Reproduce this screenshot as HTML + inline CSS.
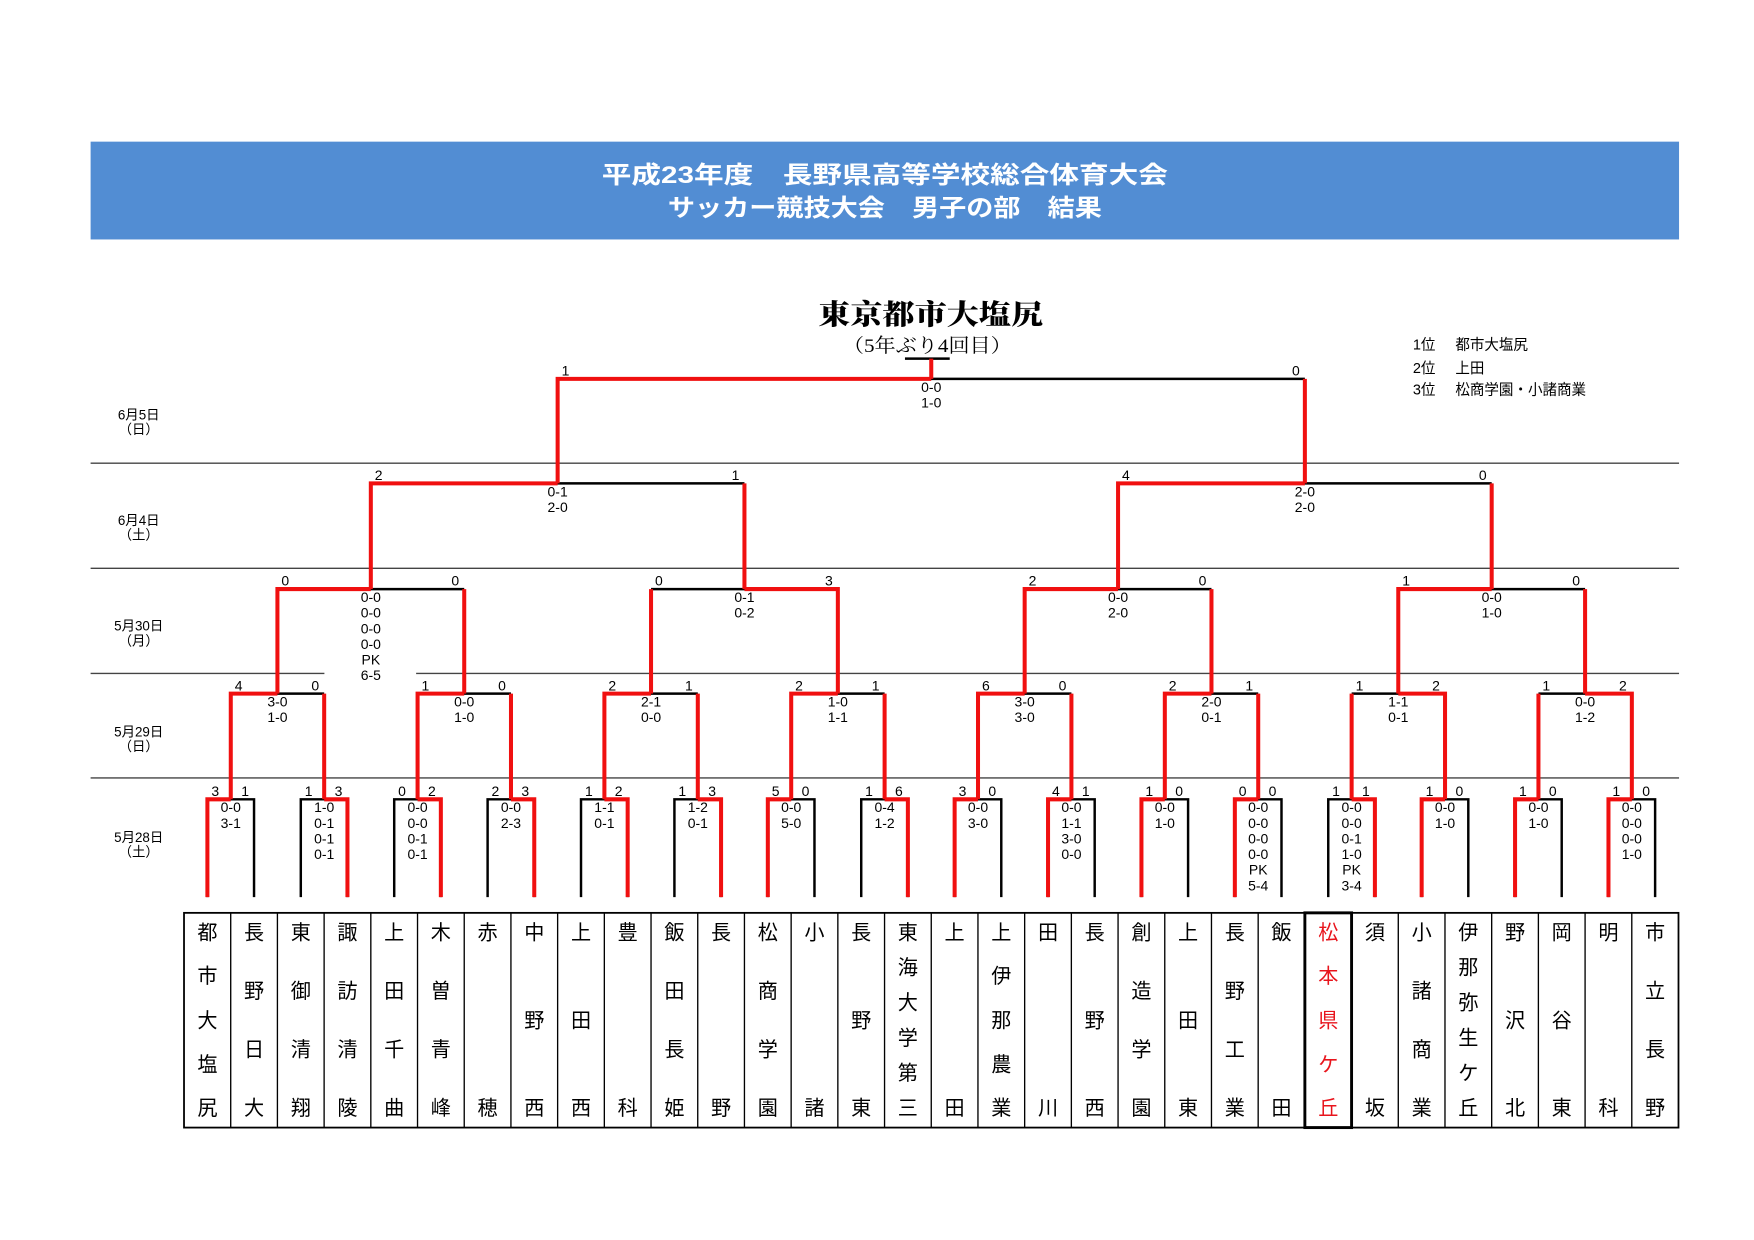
<!DOCTYPE html>
<html><head><meta charset="utf-8"><style>html,body{margin:0;padding:0;background:#fff}svg{display:block}</style></head>
<body>
<svg width="1754" height="1240" viewBox="0 0 1568 1103" preserveAspectRatio="none" xmlns="http://www.w3.org/2000/svg">
<rect x="81" y="126" width="1420" height="87" fill="#528dd3"/>
<g font-family="'Liberation Sans','Noto Sans CJK JP',sans-serif" font-weight="bold" fill="#fff" font-size="21" text-anchor="middle">
<text x="791" y="163" textLength="506" lengthAdjust="spacingAndGlyphs">平成23年度　長野県高等学校総合体育大会</text>
<text x="791" y="192" textLength="388" lengthAdjust="spacingAndGlyphs">サッカー競技大会　男子の部　結果</text>
</g>
<g font-family="'Liberation Serif','Noto Serif CJK SC',serif" text-anchor="middle" fill="#000">
<text x="832" y="288" font-size="25" font-weight="900" textLength="201" lengthAdjust="spacingAndGlyphs">東京都市大塩尻</text>
<text x="829" y="313" font-size="17" textLength="151" lengthAdjust="spacingAndGlyphs">（5年ぶり4回目）</text>
</g>
<g font-family="'Liberation Sans','Noto Sans CJK JP',sans-serif" font-size="13" fill="#000">
<text x="1263" y="311">1位</text><text x="1301" y="311">都市大塩尻</text>
<text x="1263" y="332">2位</text><text x="1301" y="332">上田</text>
<text x="1263" y="351">3位</text><text x="1301" y="351">松商学園・小諸商業</text>
</g>
<g font-family="'Liberation Sans','Noto Sans CJK JP',sans-serif" font-size="12" fill="#000" text-anchor="middle">
<text x="124" y="373">6月5日</text><text x="124" y="386">（日）</text>
<text x="124" y="467">6月4日</text><text x="124" y="480">（土）</text>
<text x="124" y="561">5月30日</text><text x="124" y="574">（月）</text>
<text x="124" y="655">5月29日</text><text x="124" y="668">（日）</text>
<text x="124" y="749">5月28日</text><text x="124" y="762">（土）</text>
</g>
<g stroke="#444" stroke-width="1.2" fill="none">
<path d="M81 412H1501M81 505.5H1501M81 599H290M372 599H1501M81 692H1501"/>
</g>
<g stroke="#000" stroke-width="2.2" fill="none">
<path d="M185.4 798V711H227.1V798M268.9 798V711H310.6V798M352.4 798V711H394.1V798M435.9 798V711H477.6V798M519.4 798V711H561.1V798M602.9 798V711H644.6V798M686.4 798V711H728.1V798M769.9 798V711H811.6V798M853.4 798V711H895.1V798M936.9 798V711H978.6V798M1020.4 798V711H1062.1V798M1103.9 798V711H1145.6V798M1187.4 798V711H1229.1V798M1270.9 798V711H1312.6V798M1354.4 798V711H1396.1V798M1437.9 798V711H1479.6V798"/>
<path d="M206.3 617H289.8M373.3 617H456.8M540.3 617H623.8M707.3 617H790.8M874.3 617H957.8M1041.3 617H1124.8M1208.3 617H1291.8M1375.3 617H1458.8"/>
<path d="M248 524H415M582 524H749M916 524H1083M1250 524H1417"/>
<path d="M331.5 430H665.5M999.5 430H1333.5M498.5 337H1166.5"/>
<path d="M809 319H849"/>
</g>
<g stroke="#f01010" stroke-width="3.6" fill="none" stroke-linejoin="miter">
<path d="M185.4 798V711H206.3M310.6 798V711H289.8M394.1 798V711H373.3M477.6 798V711H456.8M561.1 798V711H540.3M644.6 798V711H623.8M686.4 798V711H707.3M811.6 798V711H790.8M853.4 798V711H874.3M936.9 798V711H957.8M1020.4 798V711H1041.3M1103.9 798V711H1124.8M1229.1 798V711H1208.3M1270.9 798V711H1291.8M1354.4 798V711H1375.3M1437.9 798V711H1458.8"/>
<path d="M206.3 711V617H248M289.8 711V617M373.3 711V617H415M456.8 711V617M540.3 711V617H582M623.8 711V617M707.3 711V617H749M790.8 711V617M874.3 711V617H916M957.8 711V617M1041.3 711V617H1083M1124.8 711V617M1291.8 711V617H1250M1208.3 711V617M1458.8 711V617H1417M1375.3 711V617"/>
<path d="M248 617V524H331.5M415 617V524M749 617V524H665.5M582 617V524M916 617V524H999.5M1083 617V524M1250 617V524H1333.5M1417 617V524"/>
<path d="M331.5 524V430H498.5M665.5 524V430M999.5 524V430H1166.5M1333.5 524V430"/>
<path d="M498.5 430V337H832.5M1166.5 430V337M832.5 337V319"/>
</g>
<g font-family="'Liberation Sans',sans-serif" font-size="12.5" fill="#000" text-anchor="middle">
<text x="192.4" y="708">3</text><text x="219.1" y="708">1</text>
<text x="275.9" y="708">1</text><text x="302.6" y="708">3</text>
<text x="359.4" y="708">0</text><text x="386.1" y="708">2</text>
<text x="442.9" y="708">2</text><text x="469.6" y="708">3</text>
<text x="526.4" y="708">1</text><text x="553.1" y="708">2</text>
<text x="609.9" y="708">1</text><text x="636.6" y="708">3</text>
<text x="693.4" y="708">5</text><text x="720.1" y="708">0</text>
<text x="776.9" y="708">1</text><text x="803.6" y="708">6</text>
<text x="860.4" y="708">3</text><text x="887.1" y="708">0</text>
<text x="943.9" y="708">4</text><text x="970.6" y="708">1</text>
<text x="1027.4" y="708">1</text><text x="1054.1" y="708">0</text>
<text x="1110.9" y="708">0</text><text x="1137.6" y="708">0</text>
<text x="1194.4" y="708">1</text><text x="1221.1" y="708">1</text>
<text x="1277.9" y="708">1</text><text x="1304.6" y="708">0</text>
<text x="1361.4" y="708">1</text><text x="1388.1" y="708">0</text>
<text x="1444.9" y="708">1</text><text x="1471.6" y="708">0</text>
<text x="213.3" y="614">4</text><text x="281.8" y="614">0</text>
<text x="380.3" y="614">1</text><text x="448.8" y="614">0</text>
<text x="547.3" y="614">2</text><text x="615.8" y="614">1</text>
<text x="714.3" y="614">2</text><text x="782.8" y="614">1</text>
<text x="881.3" y="614">6</text><text x="949.8" y="614">0</text>
<text x="1048.3" y="614">2</text><text x="1116.8" y="614">1</text>
<text x="1215.3" y="614">1</text><text x="1283.8" y="614">2</text>
<text x="1382.3" y="614">1</text><text x="1450.8" y="614">2</text>
<text x="255" y="521">0</text><text x="407" y="521">0</text>
<text x="589" y="521">0</text><text x="741" y="521">3</text>
<text x="923" y="521">2</text><text x="1075" y="521">0</text>
<text x="1257" y="521">1</text><text x="1409" y="521">0</text>
<text x="338.5" y="427">2</text><text x="657.5" y="427">1</text>
<text x="1006.5" y="427">4</text><text x="1325.5" y="427">0</text>
<text x="505.5" y="334">1</text><text x="1158.5" y="334">0</text>
<text x="206.3" y="722.5">0-0</text><text x="206.3" y="736.4">3-1</text>
<text x="289.8" y="722.5">1-0</text><text x="289.8" y="736.4">0-1</text><text x="289.8" y="750.3">0-1</text><text x="289.8" y="764.2">0-1</text>
<text x="373.3" y="722.5">0-0</text><text x="373.3" y="736.4">0-0</text><text x="373.3" y="750.3">0-1</text><text x="373.3" y="764.2">0-1</text>
<text x="456.8" y="722.5">0-0</text><text x="456.8" y="736.4">2-3</text>
<text x="540.3" y="722.5">1-1</text><text x="540.3" y="736.4">0-1</text>
<text x="623.8" y="722.5">1-2</text><text x="623.8" y="736.4">0-1</text>
<text x="707.3" y="722.5">0-0</text><text x="707.3" y="736.4">5-0</text>
<text x="790.8" y="722.5">0-4</text><text x="790.8" y="736.4">1-2</text>
<text x="874.3" y="722.5">0-0</text><text x="874.3" y="736.4">3-0</text>
<text x="957.8" y="722.5">0-0</text><text x="957.8" y="736.4">1-1</text><text x="957.8" y="750.3">3-0</text><text x="957.8" y="764.2">0-0</text>
<text x="1041.3" y="722.5">0-0</text><text x="1041.3" y="736.4">1-0</text>
<text x="1124.8" y="722.5">0-0</text><text x="1124.8" y="736.4">0-0</text><text x="1124.8" y="750.3">0-0</text><text x="1124.8" y="764.2">0-0</text><text x="1124.8" y="778.1">PK</text><text x="1124.8" y="792">5-4</text>
<text x="1208.3" y="722.5">0-0</text><text x="1208.3" y="736.4">0-0</text><text x="1208.3" y="750.3">0-1</text><text x="1208.3" y="764.2">1-0</text><text x="1208.3" y="778.1">PK</text><text x="1208.3" y="792">3-4</text>
<text x="1291.8" y="722.5">0-0</text><text x="1291.8" y="736.4">1-0</text>
<text x="1375.3" y="722.5">0-0</text><text x="1375.3" y="736.4">1-0</text>
<text x="1458.8" y="722.5">0-0</text><text x="1458.8" y="736.4">0-0</text><text x="1458.8" y="750.3">0-0</text><text x="1458.8" y="764.2">1-0</text>
<text x="248" y="628.5">3-0</text><text x="248" y="642.4">1-0</text>
<text x="415" y="628.5">0-0</text><text x="415" y="642.4">1-0</text>
<text x="582" y="628.5">2-1</text><text x="582" y="642.4">0-0</text>
<text x="749" y="628.5">1-0</text><text x="749" y="642.4">1-1</text>
<text x="916" y="628.5">3-0</text><text x="916" y="642.4">3-0</text>
<text x="1083" y="628.5">2-0</text><text x="1083" y="642.4">0-1</text>
<text x="1250" y="628.5">1-1</text><text x="1250" y="642.4">0-1</text>
<text x="1417" y="628.5">0-0</text><text x="1417" y="642.4">1-2</text>
<text x="331.5" y="535.5">0-0</text><text x="331.5" y="549.4">0-0</text><text x="331.5" y="563.3">0-0</text><text x="331.5" y="577.2">0-0</text><text x="331.5" y="591.1">PK</text><text x="331.5" y="605">6-5</text>
<text x="665.5" y="535.5">0-1</text><text x="665.5" y="549.4">0-2</text>
<text x="999.5" y="535.5">0-0</text><text x="999.5" y="549.4">2-0</text>
<text x="1333.5" y="535.5">0-0</text><text x="1333.5" y="549.4">1-0</text>
<text x="498.5" y="441.5">0-1</text><text x="498.5" y="455.4">2-0</text>
<text x="1166.5" y="441.5">2-0</text><text x="1166.5" y="455.4">2-0</text>
<text x="832.5" y="348.5">0-0</text><text x="832.5" y="362.4">1-0</text>
</g>
<g fill="none" stroke="#000">
<rect x="164.5" y="812" width="1336" height="191" stroke-width="1.6"/>
<path stroke-width="1.2" d="M206.25 812V1003M248 812V1003M289.75 812V1003M331.5 812V1003M373.25 812V1003M415 812V1003M456.75 812V1003M498.5 812V1003M540.25 812V1003M582 812V1003M623.75 812V1003M665.5 812V1003M707.25 812V1003M749 812V1003M790.75 812V1003M832.5 812V1003M874.25 812V1003M916 812V1003M957.75 812V1003M999.5 812V1003M1041.25 812V1003M1083 812V1003M1124.75 812V1003M1166.5 812V1003M1208.25 812V1003M1250 812V1003M1291.75 812V1003M1333.5 812V1003M1375.25 812V1003M1417 812V1003M1458.75 812V1003"/>
<rect x="1166.5" y="812" width="41.75" height="191" stroke-width="2.6"/>
</g>
<g font-family="'Liberation Sans','Noto Sans CJK JP',sans-serif" font-size="18" fill="#000" text-anchor="middle">
<text x="185.4" y="835.5">都</text><text x="185.4" y="874.6">市</text><text x="185.4" y="913.8">大</text><text x="185.4" y="952.9">塩</text><text x="185.4" y="992">尻</text>
<text x="227.1" y="835.5">長</text><text x="227.1" y="887.7">野</text><text x="227.1" y="939.8">日</text><text x="227.1" y="992">大</text>
<text x="268.9" y="835.5">東</text><text x="268.9" y="887.7">御</text><text x="268.9" y="939.8">清</text><text x="268.9" y="992">翔</text>
<text x="310.6" y="835.5">諏</text><text x="310.6" y="887.7">訪</text><text x="310.6" y="939.8">清</text><text x="310.6" y="992">陵</text>
<text x="352.4" y="835.5">上</text><text x="352.4" y="887.7">田</text><text x="352.4" y="939.8">千</text><text x="352.4" y="992">曲</text>
<text x="394.1" y="835.5">木</text><text x="394.1" y="887.7">曽</text><text x="394.1" y="939.8">青</text><text x="394.1" y="992">峰</text>
<text x="435.9" y="835.5">赤</text><text x="435.9" y="992">穂</text>
<text x="477.6" y="835.5">中</text><text x="477.6" y="913.8">野</text><text x="477.6" y="992">西</text>
<text x="519.4" y="835.5">上</text><text x="519.4" y="913.8">田</text><text x="519.4" y="992">西</text>
<text x="561.1" y="835.5">豊</text><text x="561.1" y="992">科</text>
<text x="602.9" y="835.5">飯</text><text x="602.9" y="887.7">田</text><text x="602.9" y="939.8">長</text><text x="602.9" y="992">姫</text>
<text x="644.6" y="835.5">長</text><text x="644.6" y="992">野</text>
<text x="686.4" y="835.5">松</text><text x="686.4" y="887.7">商</text><text x="686.4" y="939.8">学</text><text x="686.4" y="992">園</text>
<text x="728.1" y="835.5">小</text><text x="728.1" y="992">諸</text>
<text x="769.9" y="835.5">長</text><text x="769.9" y="913.8">野</text><text x="769.9" y="992">東</text>
<text x="811.6" y="835.5">東</text><text x="811.6" y="866.8">海</text><text x="811.6" y="898.1">大</text><text x="811.6" y="929.4">学</text><text x="811.6" y="960.7">第</text><text x="811.6" y="992">三</text>
<text x="853.4" y="835.5">上</text><text x="853.4" y="992">田</text>
<text x="895.1" y="835.5">上</text><text x="895.1" y="874.6">伊</text><text x="895.1" y="913.8">那</text><text x="895.1" y="952.9">農</text><text x="895.1" y="992">業</text>
<text x="936.9" y="835.5">田</text><text x="936.9" y="992">川</text>
<text x="978.6" y="835.5">長</text><text x="978.6" y="913.8">野</text><text x="978.6" y="992">西</text>
<text x="1020.4" y="835.5">創</text><text x="1020.4" y="887.7">造</text><text x="1020.4" y="939.8">学</text><text x="1020.4" y="992">園</text>
<text x="1062.1" y="835.5">上</text><text x="1062.1" y="913.8">田</text><text x="1062.1" y="992">東</text>
<text x="1103.9" y="835.5">長</text><text x="1103.9" y="887.7">野</text><text x="1103.9" y="939.8">工</text><text x="1103.9" y="992">業</text>
<text x="1145.6" y="835.5">飯</text><text x="1145.6" y="992">田</text>
<g fill="#e8141c"><text x="1187.4" y="835.5">松</text><text x="1187.4" y="874.6">本</text><text x="1187.4" y="913.8">県</text><text x="1187.4" y="952.9">ケ</text><text x="1187.4" y="992">丘</text></g>
<text x="1229.1" y="835.5">須</text><text x="1229.1" y="992">坂</text>
<text x="1270.9" y="835.5">小</text><text x="1270.9" y="887.7">諸</text><text x="1270.9" y="939.8">商</text><text x="1270.9" y="992">業</text>
<text x="1312.6" y="835.5">伊</text><text x="1312.6" y="866.8">那</text><text x="1312.6" y="898.1">弥</text><text x="1312.6" y="929.4">生</text><text x="1312.6" y="960.7">ケ</text><text x="1312.6" y="992">丘</text>
<text x="1354.4" y="835.5">野</text><text x="1354.4" y="913.8">沢</text><text x="1354.4" y="992">北</text>
<text x="1396.1" y="835.5">岡</text><text x="1396.1" y="913.8">谷</text><text x="1396.1" y="992">東</text>
<text x="1437.9" y="835.5">明</text><text x="1437.9" y="992">科</text>
<text x="1479.6" y="835.5">市</text><text x="1479.6" y="887.7">立</text><text x="1479.6" y="939.8">長</text><text x="1479.6" y="992">野</text>
</g>
</svg>
</body></html>
